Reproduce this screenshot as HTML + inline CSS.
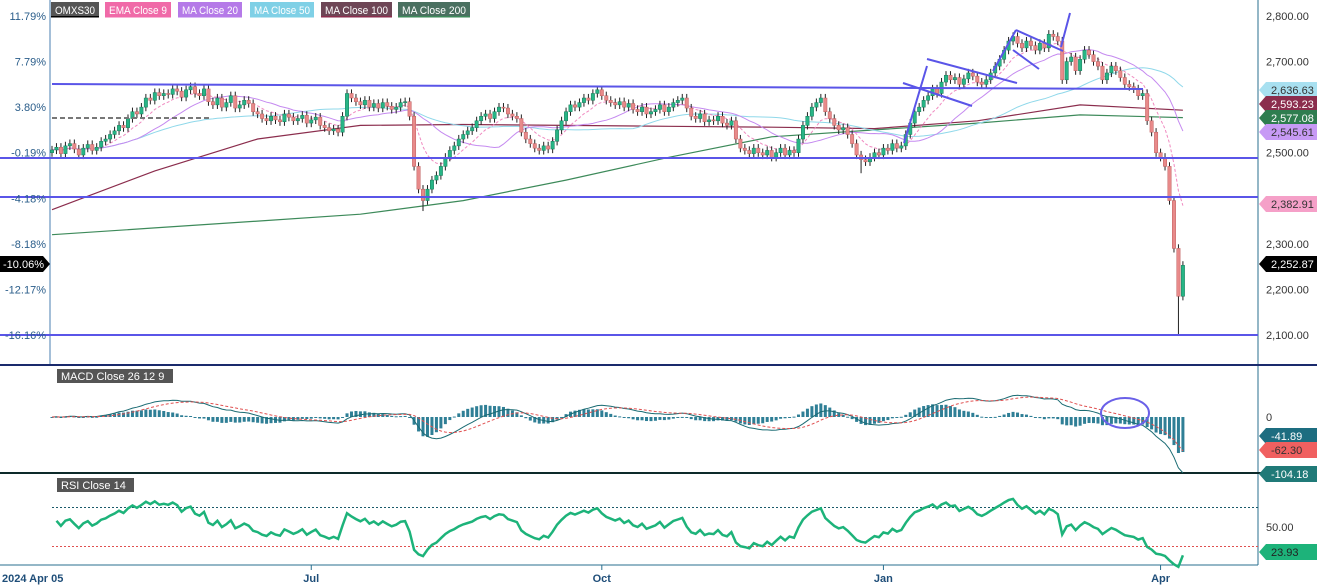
<!DOCTYPE html>
<html><head><meta charset="utf-8"><style>
html,body{margin:0;padding:0;background:#fff;}
svg{display:block;font-family:"Liberation Sans",sans-serif;}
</style></head><body>
<svg id="chart" width="1317" height="586" viewBox="0 0 1317 586" xmlns="http://www.w3.org/2000/svg">
<g id="grid"></g>
<g id="lines"></g>
<g id="candles"></g>
<g id="ind"></g>
<g id="draw"></g>
<g id="axes"></g>
</svg>
<script>
const closes=[2506,2512,2498,2515,2520,2508,2495,2510,2518,2505,2512,2525,2530,
2540,2548,2560,2555,2575,2590,2585,2600,2620,2615,2632,2625,
2630,2628,2640,2635,2622,2638,2645,2630,2625,2640,
2612,2605,2620,2600,2610,2625,2598,2605,2615,2608,2590,2585,
2575,2570,2580,2572,2568,2585,2578,2570,2575,2582,2565,2572,2578,2560,2555,2548,
2552,2545,2580,2630,
2620,2612,2605,2615,2600,2608,2598,2610,2602,2595,2600,2610,2612,2580,
2470,2420,2395,2420,
2440,2450,2470,2490,2505,2515,2530,2540,2548,2555,
2570,2580,2585,2575,2590,2600,2598,2585,2580,2575,
2545,2530,2520,2510,2505,2515,2508,2525,
2550,2570,2590,2605,2600,2610,2620,2615,2630,2638,
2625,2615,2610,2605,2612,2600,2608,2595,2590,2600,2585,2590,
2595,2605,2590,2600,2610,2615,2620,2598,2580,
2575,2585,2568,2572,2570,2580,2565,2560,2570,
2530,2510,2505,2498,2510,2500,2495,2505,2490,2500,2510,2495,2505,2500,
2530,2560,2580,2600,2610,2620,
2590,2575,2560,2550,2555,2540,2520,2495,2485,2480,2490,
2500,2495,2510,2505,2520,2510,2515,
2540,2565,2590,2600,2615,2625,2640,2630,
2655,2670,2660,2665,2650,2662,2675,2668,2655,2650,
2660,2675,2690,2705,2725,2745,
2755,2740,2730,2745,2735,2725,2740,2730,2760,2755,2745,
2660,2700,2710,2680,2705,2725,2715,2700,2690,2660,
2675,2690,2680,2665,2650,2645,
2640,2625,2630,2570,2545,2500,2490,
2470,2395,2290,2185,2252.87];
const firstOpen=2500;
const lowOverrides=[[252,2100],[83,2372],[181,2455]];
const ma100Idx=[0,23,46,69,92,115,138,161,184,207,230,253];
const ma100Vals=[2375,2460,2530,2560,2562,2560,2558,2556,2553,2570,2605,2593.23];
const ma200Vals=[2320,2335,2350,2365,2395,2440,2490,2535,2550,2565,2583,2577.08];
const priceTicks=[2800,2700,2500,2300,2200,2100];
const pctTicks=["11.79%","7.79%","3.80%","-0.19%","-4.18%","-8.18%","-12.17%","-16.16%"];
const pctTickPrices=[2800,2700,2600,2500,2400,2300,2200,2100];
const monthLabels=["Jul","Oct","Jan","Apr"];
const monthIdx=[58,123,186,248];

const NS="http://www.w3.org/2000/svg";
function mk(tag,attrs,parent,text){const e=document.createElementNS(NS,tag);for(const k in attrs)e.setAttribute(k,attrs[k]);if(text!==undefined)e.textContent=text;document.getElementById(parent).appendChild(e);return e;}
const xOf=i=>52+i*4.47;
const yP=p=>16+(2800-p)*0.4557;
const yM=v=>417-v*0.53;
const yR=v=>527-(v-50)*0.975;

let e;
e=mk('line',{x1:50,y1:0,x2:50,y2:365,stroke:'#4a7fb0','stroke-width':1},'grid');

e=mk('line',{x1:1258,y1:0,x2:1258,y2:565,stroke:'#2a6f8f','stroke-width':1},'grid');

e=mk('line',{x1:0,y1:365,x2:1317,y2:365,stroke:'#1a2a6c','stroke-width':2},'grid');

e=mk('line',{x1:0,y1:473,x2:1317,y2:473,stroke:'#0d2a2a','stroke-width':2},'grid');

e=mk('line',{x1:0,y1:565,x2:1258,y2:565,stroke:'#2a6f8f','stroke-width':1},'grid');


const hl=[[52,84,1143,89],[0,158,1258,158],[0,197,1258,197],[0,335,1258,335]];
hl.forEach(h=>{const l=mk('line',{x1:h[0],y1:h[1],x2:h[2],y2:h[3],stroke:'#5a55e8','stroke-width':2},'draw');
});
e=mk('line',{x1:52,y1:118,x2:210,y2:118,stroke:'#777','stroke-width':2,'stroke-dasharray':'5,3'},'draw');

const tl=[[903,83,972,106],[904,143,927,66],[927,59,1017,83],[993,71,1016,30],[1016,30,1063,51],[1013,50,1039,69],[1061,47,1070,13]];
tl.forEach(t=>{const l=mk('line',{x1:t[0],y1:t[1],x2:t[2],y2:t[3],stroke:'#5a55e8','stroke-width':2},'draw');
});

function sma(n){return closes.map((c,i)=>{const s=Math.max(0,i-n+1);let t=0;for(let k=s;k<=i;k++)t+=closes[k];return t/(i-s+1);});}
function ema(arr,n){const a=2/(n+1);let out=[],p=arr[0];arr.forEach((v,i)=>{p=i?a*v+(1-a)*p:v;out.push(p);});return out;}
function poly(vals,idx,color,w,name,yf,dash,parent){const pts=vals.map((v,i)=>xOf(idx?idx[i]:i).toFixed(1)+','+yf(v).toFixed(1)).join(' ');
const p=mk('polyline',{points:pts,fill:'none',stroke:color,'stroke-width':w},parent||'lines');if(dash)p.setAttribute('stroke-dasharray',dash);
return p;}
poly(ma200Vals,ma100Idx,'#3d8a5a',1.2,'ma200-line',yP);
poly(ma100Vals,ma100Idx,'#8b2d4d',1.2,'ma100-line',yP);
poly(sma(50),null,'#8fd8ea',1,'ma50-line',yP);
poly(sma(20),null,'#c58af0',1,'ma20-line',yP);
poly(ema(closes,9),null,'#f08ac0',1,'ema9-line',yP,'3,2');

closes.forEach((c,i)=>{const o=i?closes[i-1]:firstOpen;let hi=Math.max(o,c)+9,lo=Math.min(o,c)-9;
lowOverrides.forEach(l=>{if(l[0]===i)lo=l[1];});
const x=xOf(i),up=c>=o;
const w=mk('line',{x1:x,y1:yP(hi),x2:x,y2:yP(lo),stroke:'#222','stroke-width':1},'candles');

const top=yP(Math.max(o,c)),h=Math.max(1,yP(Math.min(o,c))-top);
const r=mk('rect',{x:x-1.7,y:top,width:3.4,height:h,fill:up?'#27b586':'#e88a8a',stroke:up?'#1a7a5a':'#c06060','stroke-width':0.5},'candles');
});

const e12=ema(closes,12),e26=ema(closes,26);const macd=e12.map((v,i)=>v-e26[i]);const sig=ema(macd,9);
macd.forEach((m,i)=>{const h=(m-sig[i])*1.6;const y0=yM(0),y1=yM(h);
const r=mk('rect',{x:xOf(i)-1.5,y:Math.min(y0,y1),width:3,height:Math.max(1,Math.abs(y1-y0)),fill:'#2f7f96'},'ind');
});
poly(macd,null,'#1a6b73',1,'macd-line',yM,null,'ind');
poly(sig,null,'#e05050',1,'macd-signal-line',yM,'3,2','ind');
e=mk('ellipse',{cx:1125,cy:413,rx:24,ry:15,fill:'none',stroke:'#6a60e8','stroke-width':2},'draw');


let ag=6,al=5;const rsi=[],rsiIdx=[];closes.forEach((c,i)=>{if(!i)return;const d=c-closes[i-1];const g=Math.max(d,0),l=Math.max(-d,0);
ag=(ag*13+g)/14;al=(al*13+l)/14;rsi.push(al===0?100:100-100/(1+ag/al));rsiIdx.push(i);});
e=mk('line',{x1:52,y1:yR(70),x2:1258,y2:yR(70),stroke:'#1a5a6a','stroke-width':1,'stroke-dasharray':'2,2'},'ind');

e=mk('line',{x1:52,y1:yR(30),x2:1258,y2:yR(30),stroke:'#e05050','stroke-width':1,'stroke-dasharray':'2,2'},'ind');

poly(rsi,rsiIdx,'#1db37a',2.5,'rsi-line',yR,null,'ind');

function txt(x,y,s,attrs,name){const t=mk('text',Object.assign({x:x,y:y,'font-size':11,fill:'#2a5d8a'},attrs||{}),'axes',s);return t;}
priceTicks.forEach(p=>txt(1266,yP(p)+4,p.toLocaleString('en-US',{minimumFractionDigits:2}),{fill:'#333'},'price-tick-label'));
pctTicks.forEach((s,i)=>txt(46,yP(pctTickPrices[i])+4,s,{'text-anchor':'end'},'percent-tick-label'));
txt(1266,421,'0',{fill:'#333'},'macd-zero-label');
txt(1266,531,'50.00',{fill:'#333'},'rsi-50-label');
monthLabels.forEach((m,i)=>{const x=xOf(monthIdx[i]);const l=mk('line',{x1:x,y1:565,x2:x,y2:570,stroke:'#2a6f8f'},'axes');
txt(x,582,m,{'text-anchor':'middle','font-weight':'bold',fill:'#1f4e79'},'x-tick-label');});
txt(2,582,'2024 Apr 05',{'font-weight':'bold',fill:'#1f4e79'},'x-start-label');

function badge(x,y,w,s,bg,fg,name,left){const pts=left?`${x},${y} ${x+7},${y-8} ${x+w},${y-8} ${x+w},${y+8} ${x+7},${y+8}`:`${x},${y-8} ${x+w-7},${y-8} ${x+w},${y} ${x+w-7},${y+8} ${x},${y+8}`;
const g=mk('polygon',{points:pts,fill:bg},'axes');
txt(left?x+12:x+3,y+4,s,{fill:fg,'font-size':11},name+'-text');}
badge(1259,90,58,'2,636.63','#a8e0f0','#333','ma50-value-badge',true);
badge(1259,104,58,'2,593.23','#8b2d4d','#fff','ma100-value-badge',true);
badge(1259,118,58,'2,577.08','#2e7d4f','#fff','ma200-value-badge',true);
badge(1259,132,58,'2,545.61','#c79af5','#333','ma20-value-badge',true);
badge(1259,204,58,'2,382.91','#f5a0c8','#333','ema9-value-badge',true);
badge(1259,264,58,'2,252.87','#000','#fff','last-price-badge',true);
badge(1259,436,58,'-41.89','#1d6d80','#fff','macd-hist-badge',true);
badge(1259,450,58,'-62.30','#f06060','#333','macd-signal-badge',true);
badge(1259,474,58,'-104.18','#207a78','#fff','macd-value-badge',true);
badge(1259,552,58,'23.93','#1db37a','#222','rsi-value-badge',true);
badge(0,264,50,'-10.06%','#000','#fff','last-percent-badge',false);

const leg=[["OMXS30",'#555','#000'],["EMA Close 9",'#f06aa8','#f06aa8'],["MA Close 20",'#b57ae8','#b57ae8'],["MA Close 50",'#7fd0e6','#7fd0e6'],["MA Close 100",'#6e4656','#8b2d4d'],["MA Close 200",'#4a7060','#3d8a5a']];
const legX=[51,105,178,250,321,398],legW=[48,66,64,64,71,72];
leg.forEach((l,i)=>{const r=mk('rect',{x:legX[i],y:2,width:legW[i],height:15,fill:l[1]},'axes');
const u=mk('rect',{x:legX[i],y:16,width:legW[i],height:1.5,fill:l[2]},'axes');
txt(legX[i]+4,14,l[0],{fill:'#fff','font-size':11,textLength:legW[i]-8,lengthAdjust:'spacingAndGlyphs'},'legend-label');});
[["MACD Close 26 12 9",57,369,116],["RSI Close 14",57,478,77]].forEach(p=>{const r=mk('rect',{x:p[1],y:p[2],width:p[3],height:14,fill:'#555'},'axes');
txt(p[1]+4,p[2]+11,p[0],{fill:'#fff','font-size':11},'panel-legend-label');});
</script>
</body></html>
